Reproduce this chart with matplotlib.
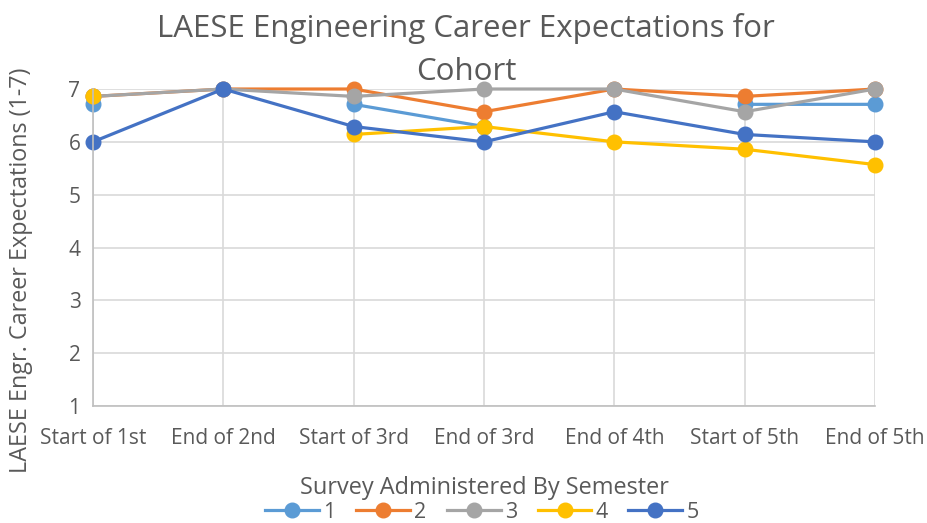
import matplotlib.pyplot as plt
import numpy as np

semesters = ['Start of 1st', 'End of 2nd', 'Start of 3rd', 'End of 3rd',
             'End of 4th', 'Start of 5th', 'End of 5th']
nan = np.nan
cohort_1 = [6.71, nan, 6.71, 6.29, nan, 6.71, 6.71]
cohort_2 = [6.86, 7.0, 7.0, 6.57, 7.0, 6.86, 7.0]
cohort_3 = [6.86, 7.0, 6.86, 7.0, 7.0, 6.57, 7.0]
cohort_4 = [6.86, nan, 6.14, 6.29, 6.0, 5.86, 5.57]
cohort_5 = [6.0, 7.0, 6.29, 6.0, 6.57, 6.14, 6.0]

series = [('1', cohort_1, '#5B9BD5'), ('2', cohort_2, '#ED7D31'),
          ('3', cohort_3, '#A5A5A5'), ('4', cohort_4, '#FFC000'),
          ('5', cohort_5, '#4472C4')]

plt.rcParams['font.family'] = ['Open Sans', 'DejaVu Sans']
text_color = '#595959'

fig = plt.figure(figsize=(9.27, 5.23), dpi=100)
ax = fig.add_axes([0.1003, 0.2237, 0.8436, 0.6061])

x = np.arange(len(semesters))
for name, vals, color in series:
    ax.plot(x, vals, marker='o', color=color, linewidth=2.3, markersize=10.5,
            label=name, clip_on=False)

ax.set_xlim(0, len(semesters) - 1)
ax.set_ylim(1, 7)
ax.set_yticks(range(1, 8))
ax.set_xticks(x)
ax.set_xticklabels(semesters)
ax.tick_params(length=0, labelsize=15, colors=text_color)
ax.tick_params(axis='x', pad=16)
ax.tick_params(axis='y', pad=9)
ax.grid(True, color='#D9D9D9', linewidth=1.2)
ax.set_axisbelow(True)
for side in ['top', 'right']:
    ax.spines[side].set_visible(False)
for side in ['left', 'bottom']:
    ax.spines[side].set_color('#BFBFBF')
    ax.spines[side].set_linewidth(1.2)

ax.set_xlabel('Survey Administered By Semester', fontsize=16.9, color=text_color)
ax.xaxis.set_label_coords(0.5, -0.222)
ax.set_ylabel('LAESE Engr. Career Expectations (1-7)', fontsize=16.8, color=text_color)
ax.yaxis.set_label_coords(-0.077, 0.429)
fig.text(0.503, 0.975, 'LAESE Engineering Career Expectations for\nCohort',
         ha='center', va='top', fontsize=22.5, color=text_color, linespacing=1.55)

fig.legend(*ax.get_legend_handles_labels(), loc='center', bbox_to_anchor=(0.52, 0.021),
           ncol=5, frameon=False, fontsize=15.5, labelcolor=text_color,
           handlelength=2.5, columnspacing=0.95, handletextpad=0.2,
           borderpad=0, borderaxespad=0)

fig.savefig('out.png', dpi=100)
